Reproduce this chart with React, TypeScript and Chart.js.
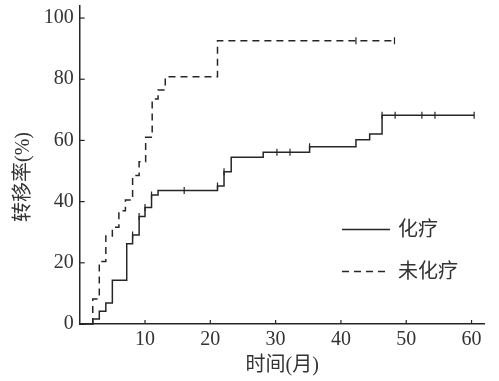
import React, { useEffect, useRef } from "react";
import { Chart, registerables } from "chart.js";

Chart.register(...registerables);

// 化疗 (chemotherapy) step curve
const chemoTimes = [0, 2, 3, 4, 5, 7.2, 8.1, 9.1, 10, 11, 12, 21.1, 22.1, 23.2, 28.1, 35.2, 42.3, 44.4, 46.3, 60.4];
const chemoRates = [0, 1.6, 4.2, 6.9, 14.3, 26.2, 29.1, 35.1, 38.1, 42.2, 43.6, 45.1, 49.8, 54.5, 56.1, 57.9, 60.2, 62.1, 68.2, 68.2];
const chemoCensorTimes = [8.1, 9.1, 10, 11, 16, 21.1, 22.1, 30.2, 32.2, 35.2, 46.3, 48.3, 52.4, 54.4, 60.4];
const chemoCensorRates = [29.1, 35.1, 38.1, 42.2, 43.6, 45.1, 49.8, 56.1, 56.1, 57.9, 68.2, 68.2, 68.2, 68.2, 68.2];

// 未化疗 (no chemotherapy) step curve
const nonChemoTimes = [0, 2, 3, 4, 5, 6, 7, 8.1, 9.1, 10.1, 11.1, 12, 13.1, 21.1, 48.2];
const nonChemoRates = [0, 8.2, 20.4, 28.8, 31.6, 37.0, 40.5, 48.5, 53, 61, 73.5, 76.5, 80.8, 92.6, 92.6];
const nonChemoCensorTimes = [42.3, 48.2];
const nonChemoCensorRates = [92.6, 92.6];

const xTicks = [10, 20, 30, 40, 50, 60];
const yTicks = [0, 20, 40, 60, 80, 100];
const seriesNames = ["化疗", "未化疗"];
const xTitle = "时间(月)";
const yTitle = "转移率(%)";

const INK = "#262626";
const TEXT = "#333333";
const CJK_FONT = '20px "Liberation Serif", "Noto Sans CJK SC", serif';
const DASH = [7, 5];

const pts = (xs: number[], ys: number[]) => xs.map((x, i) => ({ x, y: ys[i] }));

const decorPlugin = {
  id: "decor",
  afterDraw(chart: any) {
    const { ctx, chartArea, scales } = chart;
    const xs = scales.x;
    const ys = scales.y;
    ctx.save();
    // inward tick marks
    ctx.strokeStyle = INK;
    ctx.lineWidth = 1.2;
    ctx.setLineDash([]);
    xTicks.forEach((v) => {
      const px = xs.getPixelForValue(v);
      ctx.beginPath();
      ctx.moveTo(px, chartArea.bottom);
      ctx.lineTo(px, chartArea.bottom - 4);
      ctx.stroke();
    });
    yTicks.forEach((v) => {
      const py = ys.getPixelForValue(v);
      ctx.beginPath();
      ctx.moveTo(chartArea.left, py);
      ctx.lineTo(chartArea.left + 5, py);
      ctx.stroke();
    });

    // legend
    const lx0 = 342;
    const lx1 = 390;
    const rows = [229.5, 271.5];
    ctx.lineWidth = 1.5;
    rows.forEach((ry, i) => {
      ctx.setLineDash(i === 0 ? [] : DASH);
      ctx.beginPath();
      ctx.moveTo(lx0, ry);
      ctx.lineTo(lx1, ry);
      ctx.stroke();
    });
    ctx.setLineDash([]);
    ctx.fillStyle = TEXT;
    ctx.font = CJK_FONT;
    ctx.textAlign = "left";
    ctx.textBaseline = "middle";
    rows.forEach((ry, i) => ctx.fillText(seriesNames[i], 398, ry + 1));

    // axis titles
    ctx.textAlign = "center";
    ctx.textBaseline = "middle";
    ctx.fillText(xTitle, (chartArea.left + chartArea.right) / 2, 366);
    ctx.translate(24, 177);
    ctx.rotate(-Math.PI / 2);
    ctx.fillText(yTitle, 0, 0);
    ctx.restore();
  },
};

const zeroPad = (s: any) => {
  s.paddingTop = 0;
  s.paddingBottom = 0;
  s.paddingLeft = 0;
  s.paddingRight = 0;
};

export default function App() {
  const ref = useRef<HTMLCanvasElement | null>(null);

  useEffect(() => {
    if (!ref.current) return;
    const lineBase = {
      type: "line" as const,
      stepped: true,
      pointRadius: 0,
      borderWidth: 1.5,
      borderColor: INK,
      fill: false,
      clip: 6,
    };
    const censorBase = {
      type: "scatter" as const,
      pointStyle: "line",
      rotation: 90,
      pointRadius: 3.5,
      pointBorderWidth: 1.2,
      borderColor: INK,
      backgroundColor: INK,
      showLine: false,
      clip: 6,
    };
    const chart = new Chart(ref.current, {
      type: "line",
      data: {
        datasets: [
          { ...lineBase, label: seriesNames[0], data: pts(chemoTimes, chemoRates) },
          { ...lineBase, label: seriesNames[1], data: pts(nonChemoTimes, nonChemoRates), borderDash: DASH },
          { ...censorBase, label: "c1", data: pts(chemoCensorTimes, chemoCensorRates) },
          { ...censorBase, label: "c2", data: pts(nonChemoCensorTimes, nonChemoCensorRates) },
        ] as any,
      },
      options: {
        animation: false,
        responsive: true,
        maintainAspectRatio: false,
        layout: { padding: { top: 5.8, right: 14.4, left: 0, bottom: 0 } },
        plugins: { legend: { display: false }, tooltip: { enabled: false } },
        scales: {
          x: {
            type: "linear",
            min: 0,
            max: 62,
            grid: { display: false, drawTicks: false },
            border: { display: true, color: INK, width: 1.5 },
            afterBuildTicks: (s: any) => {
              s.ticks = xTicks.map((v) => ({ value: v }));
            },
            afterFit: (s: any) => {
              s.height = 57;
              zeroPad(s);
            },
            ticks: { color: TEXT, font: { family: '"Liberation Serif", serif', size: 20 }, padding: 4, maxRotation: 0, autoSkip: false },
          },
          y: {
            type: "linear",
            min: 0,
            max: 104,
            grid: { display: false, drawTicks: false },
            border: { display: true, color: INK, width: 1.5 },
            afterBuildTicks: (s: any) => {
              s.ticks = yTicks.map((v) => ({ value: v }));
            },
            afterFit: (s: any) => {
              s.width = 79.7;
              zeroPad(s);
            },
            ticks: { color: TEXT, font: { family: '"Liberation Serif", serif', size: 20 }, padding: 6, autoSkip: false },
          },
        },
      } as any,
      plugins: [decorPlugin],
    });
    return () => chart.destroy();
  }, []);

  return (
    <div style={{ position: "fixed", left: 0, top: 0, width: 499, height: 381, background: "#fff" }}>
      <canvas ref={ref} />
    </div>
  );
}
